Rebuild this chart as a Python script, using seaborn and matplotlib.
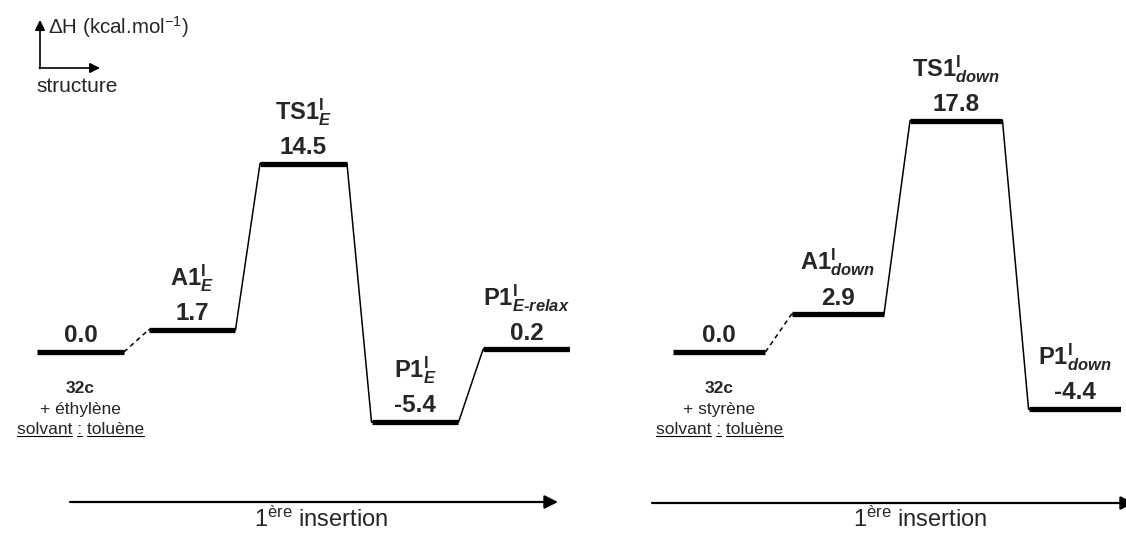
import pandas as pd
import matplotlib.pyplot as plt
import seaborn as sns

# energies (kcal/mol) for the two insertion profiles
ethylene_energy = [0.0, 1.7, 14.5, -5.4, 0.2]
ethylene_names = [None, r"$\mathbf{A1}^{\mathbf{I}}_{\mathbfit{E}}$",
                  r"$\mathbf{TS1}^{\mathbf{I}}_{\mathbfit{E}}$",
                  r"$\mathbf{P1}^{\mathbf{I}}_{\mathbfit{E}}$",
                  r"$\mathbf{P1}^{\mathbf{I}}_{\mathbfit{E‐relax}}$"]
styrene_energy = [0.0, 2.9, 17.8, -4.4]
styrene_names = [None, r"$\mathbf{A1}^{\mathbf{I}}_{\mathbfit{down}}$",
                 r"$\mathbf{TS1}^{\mathbf{I}}_{\mathbfit{down}}$",
                 r"$\mathbf{P1}^{\mathbf{I}}_{\mathbfit{down}}$"]
start_labels = ["+ éthylène", "+ styrène"]

sns.set_theme(style="white")
plt.rcParams["font.family"] = ["Liberation Sans", "DejaVu Sans"]
plt.rcParams["mathtext.fontset"] = "custom"
plt.rcParams["mathtext.rm"] = "Liberation Sans"
plt.rcParams["mathtext.it"] = "Liberation Sans:italic"
plt.rcParams["mathtext.bf"] = "Liberation Sans:bold"
plt.rcParams["mathtext.bfit"] = "Liberation Sans:bold:italic"

W, H = 1126, 533
fig = plt.figure(figsize=(W / 100, H / 100), dpi=100)


def fx(px):
    return px / W


def fy(py):
    return 1 - py / H


bar_w = 0.78
zero_py, scale = 352, 13.0
ylim = (-(H - zero_py) / scale, zero_py / scale)


def draw_profile(ax, energies, names, start_label):
    n = len(energies)
    rows = []
    for i, e in enumerate(energies):
        if i == 0:
            continue
        rows.append({"x": i - bar_w / 2, "E": e})
        rows.append({"x": i + bar_w / 2, "E": e})
    df = pd.DataFrame(rows)
    sns.lineplot(data=df, x="x", y="E", sort=False, estimator=None,
                 color="black", lw=1.1, ax=ax)
    # dashed link from the separated reactants to the adduct
    ax.plot([bar_w / 2, 1 - bar_w / 2], [energies[0], energies[1]],
            color="black", lw=1.1, ls=(0, (3, 2.5)))
    ax.hlines(energies, [i - bar_w / 2 for i in range(n)],
              [i + bar_w / 2 for i in range(n)], color="black", lw=3.8)
    for i, (e, name) in enumerate(zip(energies, names)):
        ax.annotate(f"{e:.1f}", (i, e), xytext=(0, 7), textcoords="offset points",
                    ha="center", va="baseline", fontsize=17.5, fontweight="bold")
        if name:
            ax.annotate(name, (i, e), xytext=(0, 32), textcoords="offset points",
                        ha="center", va="baseline", fontsize=17)
    ax.annotate("32c", (0, energies[0]), xytext=(0, -26.5), textcoords="offset points",
                ha="center", va="center", fontsize=12.5, fontweight="bold")
    ax.annotate(start_label, (0, energies[0]), xytext=(0, -41.5),
                textcoords="offset points", ha="center", va="center", fontsize=12.5)
    t = ax.annotate("solvant : toluène", (0, energies[0]), xytext=(0, -56),
                    textcoords="offset points", ha="center", va="center", fontsize=12.5)
    ax.set_xlim(-bar_w / 2, n - 1 + bar_w / 2)
    ax.set_ylim(*ylim)
    ax.set_axis_off()
    return t


ax1 = fig.add_axes([fx(37), 0, fx(570) - fx(37), 1])
ax2 = fig.add_axes([fx(673), 0, fx(1121) - fx(673), 1])
solv1 = draw_profile(ax1, ethylene_energy, ethylene_names, start_labels[0])
solv2 = draw_profile(ax2, styrene_energy, styrene_names, start_labels[1])

# underline "solvant", ":" and "toluène"
renderer = fig.canvas.get_renderer()


def text_width(s):
    tmp = fig.text(0, 0, s, fontsize=12.5)
    w = tmp.get_window_extent(renderer).width
    tmp.remove()
    return w


full = "solvant : toluène"
wf = text_width(full)
segs = [(0, text_width("solvant")),
        (text_width("solvant :") - text_width(":"), text_width("solvant :")),
        (wf - text_width("toluène"), wf)]
for t in (solv1, solv2):
    bb = t.get_window_extent(renderer)
    y = bb.y0 + 1
    for a, b in segs:
        fig.add_artist(plt.Line2D([(bb.x0 + a) / W, (bb.x0 + b) / W], [y / H, y / H],
                                  color="black", lw=0.8))

# axis key in the top-left corner
arrow_kw = dict(arrowstyle="-|>", color="black", lw=1.2, mutation_scale=15,
                shrinkA=0, shrinkB=0)
ax1.annotate("", xy=(fx(40), fy(20)), xytext=(fx(40), fy(68.5)),
             xycoords="figure fraction", arrowprops=arrow_kw, annotation_clip=False)
ax1.annotate("", xy=(fx(100), fy(68)), xytext=(fx(39.4), fy(68)),
             xycoords="figure fraction", arrowprops=arrow_kw, annotation_clip=False)
fig.text(fx(48), fy(27), r"$\Delta$H (kcal.mol$^{-1}$)", fontsize=14.8,
         va="center", ha="left")
fig.text(fx(36), fy(87), "structure", fontsize=15, va="center", ha="left")

# reaction coordinate arrows
axis_kw = dict(arrowstyle="-|>", color="black", lw=1.6, mutation_scale=20,
               shrinkA=0, shrinkB=0)
ax1.annotate("", xy=(fx(558), fy(502)), xytext=(fx(70), fy(502)),
             xycoords="figure fraction", arrowprops=axis_kw, annotation_clip=False)
ax2.annotate("", xy=(fx(1134), fy(503)), xytext=(fx(652), fy(503)),
             xycoords="figure fraction", arrowprops=axis_kw, annotation_clip=False)
for cx in (321, 920):
    fig.text(fx(cx), fy(532), "1$^{\\mathrm{ère}}$ insertion", fontsize=17,
             ha="center", va="bottom")

fig.savefig("out.png", dpi=100)
